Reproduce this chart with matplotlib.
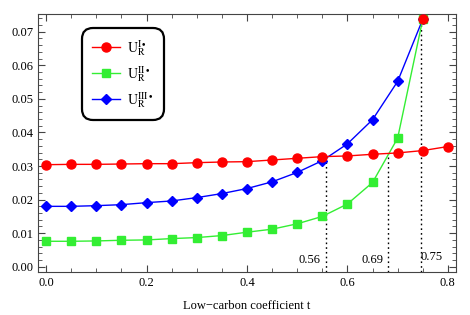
import numpy as np
import matplotlib.pyplot as plt
from matplotlib.ticker import MultipleLocator

plt.rcParams['font.family'] = 'Liberation Serif'
plt.rcParams['mathtext.fontset'] = 'stix'

# low-carbon coefficient t
t = [0.0, 0.05, 0.1, 0.15, 0.2, 0.25, 0.3, 0.35, 0.4, 0.45, 0.5, 0.55,
     0.6, 0.65, 0.7, 0.75, 0.8]
u1 = [0.0304, 0.0305, 0.0305, 0.0306, 0.0307, 0.0307, 0.0310, 0.0312, 0.0313,
      0.0318, 0.0323, 0.0328, 0.0330, 0.0335, 0.0339, 0.0346, 0.0358]
t23 = t[:16]
u2 = [0.0076, 0.0076, 0.0077, 0.0079, 0.0080, 0.0084, 0.0087, 0.0093, 0.0103,
      0.0112, 0.0128, 0.0150, 0.0187, 0.0251, 0.0383, 0.0737]
u3 = [0.0180, 0.0180, 0.0182, 0.0185, 0.0191, 0.0196, 0.0206, 0.0218, 0.0233,
      0.0253, 0.0281, 0.0316, 0.0366, 0.0438, 0.0552, 0.0737]

# thresholds marked with dotted lines
cross_t = [0.557, 0.681, 0.747]
cross_u = [0.0327, 0.0340, 0.0737]
cross_lbl = ['0.56', '0.69', '0.75']
lbl_t = [0.525, 0.650, 0.768]
lbl_u = [0.0020, 0.0020, 0.0028]

fig = plt.figure(figsize=(4.7, 3.15), dpi=100)
ax = fig.add_axes([0.081, 0.137, 0.889, 0.819])

ax.plot(t23, u3, color='#0000ff', lw=1, marker='D', ms=5, label=r'$\mathrm{U}_\mathrm{R}^{\mathrm{III}\bullet}$', zorder=3)
ax.plot(t23, u2, color='#33ee33', lw=1, marker='s', ms=5.5, label=r'$\mathrm{U}_\mathrm{R}^{\mathrm{II}\bullet}$', zorder=3)
ax.plot(t, u1, color='#ff0000', lw=1, marker='o', ms=6.5, label=r'$\mathrm{U}_\mathrm{R}^{\mathrm{I}\bullet}$', zorder=4)
ax.plot([t23[-1]], [u3[-1]], color='#ff0000', marker='o', ms=6.5, ls='none', zorder=5)

for x, y, s, lx, ly in zip(cross_t, cross_u, cross_lbl, lbl_t, lbl_u):
    ax.vlines(x, -0.0015, y, colors='black', linestyles=(0, (1.2, 2.2)), lw=1, zorder=2)
    ax.text(lx, ly, s, fontsize=9, ha='center', va='center')

ax.set_xlim(-0.016, 0.816)
ax.set_ylim(-0.0015, 0.0753)
ax.xaxis.set_major_locator(MultipleLocator(0.2))
ax.xaxis.set_minor_locator(MultipleLocator(0.05))
ax.yaxis.set_major_locator(MultipleLocator(0.01))
ax.yaxis.set_minor_locator(MultipleLocator(0.002))
ax.xaxis.set_major_formatter(plt.FuncFormatter(lambda v, p: '%.1f' % v))
ax.yaxis.set_major_formatter(plt.FuncFormatter(lambda v, p: '%.2f' % v))
ax.tick_params(which='both', direction='in', top=True, right=True, labelsize=9, color='#444444')
ax.tick_params(which='major', length=5)
ax.tick_params(which='minor', length=3)
for sp in ax.spines.values():
    sp.set_color('#444444')

ax.set_xlabel('Low\u2212carbon coefficient t', fontsize=9, labelpad=8)

h, l = ax.get_legend_handles_labels()
leg = ax.legend(h[::-1], l[::-1], loc='upper left', bbox_to_anchor=(0.115, 0.93),
                borderaxespad=0, fontsize=10, handlelength=2.0, handletextpad=0.5,
                labelspacing=0.45, fancybox=True, framealpha=1, borderpad=0.45)
leg.get_frame().set_edgecolor('black')
leg.get_frame().set_linewidth(1.6)
leg.get_frame().set_boxstyle('round', pad=0.3, rounding_size=0.8)

fig.savefig('out.png', dpi=100)
